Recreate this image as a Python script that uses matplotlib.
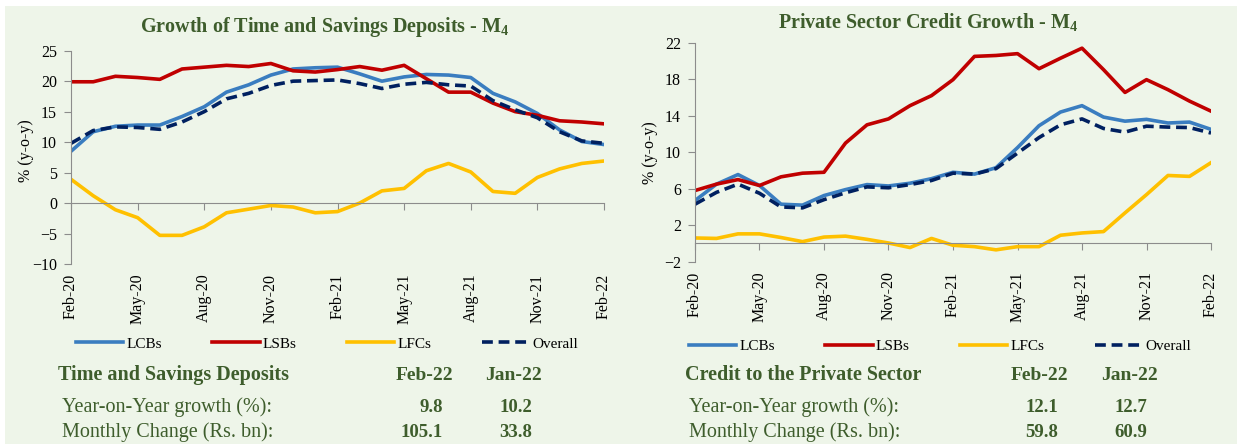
import matplotlib
matplotlib.use('Agg')
import matplotlib.pyplot as plt
from matplotlib.patches import Rectangle

plt.rcParams['font.family'] = 'Liberation Serif'
plt.rcParams['mathtext.fontset'] = 'custom'
plt.rcParams['mathtext.rm'] = 'Liberation Serif'
plt.rcParams['mathtext.bf'] = 'Liberation Serif:bold'

# monthly, Feb-20 .. Feb-22
tick_labels = ['Feb-20', 'May-20', 'Aug-20', 'Nov-20', 'Feb-21', 'May-21', 'Aug-21', 'Nov-21', 'Feb-22']

# time and savings deposits growth (% y-o-y)
dep_lcbs = [8.5, 11.7, 12.6, 12.8, 12.8, 14.2, 15.8, 18.2, 19.4, 21.0, 22.0, 22.2, 22.3,
	21.2, 20.0, 20.7, 21.1, 21.0, 20.6, 18.0, 16.6, 14.7, 12.0, 10.1, 9.6]
dep_lsbs = [19.9, 19.9, 20.8, 20.6, 20.3, 22.0, 22.3, 22.6, 22.4, 22.9, 21.7, 21.5, 21.9,
	22.4, 21.8, 22.6, 20.4, 18.2, 18.2, 16.4, 15.0, 14.4, 13.5, 13.3, 13.0]
dep_lfcs = [3.9, 1.2, -1.1, -2.4, -5.3, -5.3, -3.9, -1.6, -1.0, -0.4, -0.65, -1.6, -1.4,
	0.0, 2.0, 2.4, 5.3, 6.5, 5.1, 1.9, 1.6, 4.2, 5.6, 6.5, 6.9]
dep_overall = [9.8, 11.9, 12.5, 12.4, 12.1, 13.3, 15.0, 17.1, 18.0, 19.3, 20.0, 20.1, 20.2,
	19.6, 18.8, 19.5, 19.8, 19.4, 19.2, 16.8, 15.3, 14.0, 11.7, 10.2, 9.8]

# private sector credit growth (% y-o-y)
cr_lcbs = [4.7, 6.5, 7.55, 6.35, 4.3, 4.2, 5.25, 5.9, 6.45, 6.3, 6.6, 7.1, 7.8,
	7.6, 8.3, 10.5, 12.9, 14.4, 15.1, 13.85, 13.4, 13.6, 13.2, 13.3, 12.5]
cr_lsbs = [5.8, 6.5, 7.0, 6.35, 7.3, 7.7, 7.8, 11.0, 13.0, 13.65, 15.1, 16.2, 17.95,
	20.5, 20.6, 20.8, 19.15, 20.3, 21.4, 19.05, 16.55, 17.95, 16.85, 15.6, 14.5]
cr_lfcs = [0.6, 0.55, 1.05, 1.05, 0.65, 0.2, 0.7, 0.8, 0.45, 0.05, -0.45, 0.55, -0.2,
	-0.35, -0.7, -0.35, -0.35, 0.9, 1.15, 1.3, 3.35, 5.35, 7.45, 7.35, 8.85]
cr_overall = [4.3, 5.6, 6.5, 5.5, 4.0, 3.9, 4.8, 5.55, 6.2, 6.1, 6.45, 6.9, 7.7,
	7.6, 8.2, 9.9, 11.6, 13.0, 13.65, 12.6, 12.2, 12.85, 12.75, 12.7, 12.1]

# summary tables
dep_table = [['Year-on-Year growth (%):', '9.8', '10.2'], ['Monthly Change (Rs. bn):', '105.1', '33.8']]
cr_table = [['Year-on-Year growth (%):', '12.1', '12.7'], ['Monthly Change (Rs. bn):', '59.8', '60.9']]

BG = '#EEF5E9'
GREEN = '#3E5D2C'
AXIS = '#8C8C8C'
W, H = 1237., 444.


def draw_panel(ax, lcbs, lsbs, lfcs, overall, ylim, yticks):
	x = range(len(lcbs))
	ax.set_facecolor('none')
	ax.plot(x, lcbs, color='#3A7DC0', lw=2.6, label='LCBs')
	ax.plot(x, lsbs, color='#C00000', lw=2.6, label='LSBs')
	ax.plot(x, lfcs, color='#FFC000', lw=2.6, label='LFCs')
	ax.plot(x, overall, color='#002060', lw=2.6, ls=(0, (3, 1.6)), label='Overall')
	ax.set_xlim(0, len(lcbs) - 1)
	ax.set_ylim(*ylim)
	ax.set_yticks(yticks)
	ax.spines['top'].set_visible(False)
	ax.spines['right'].set_visible(False)
	ax.spines['left'].set_color(AXIS)
	ax.spines['bottom'].set_color(AXIS)
	ax.spines['bottom'].set_position(('data', 0))
	ax.set_xticks(range(0, len(lcbs), 3))
	ax.tick_params(axis='x', labelbottom=False, length=5, color=AXIS)
	ax.tick_params(axis='y', length=5, color=AXIS, labelsize=11.5, pad=5)
	sec = ax.secondary_xaxis('bottom')
	sec.set_xticks(range(0, len(lcbs), 3), labels=tick_labels, rotation=90)
	sec.tick_params(length=0, pad=7, labelsize=11.5)
	sec.spines['bottom'].set_visible(False)
	ax.set_ylabel('% (y-o-y)', fontsize=11.5)


def draw_table(fig, x0, cols, y0, header, rows):
	fig.text(x0 / W, 1 - y0 / H, header, fontsize=14.5, fontweight='bold', color=GREEN, va='center')
	fig.text(cols[0] / W, 1 - y0 / H, 'Feb-22', fontsize=14, fontweight='bold', color=GREEN, va='center', ha='center')
	fig.text(cols[1] / W, 1 - y0 / H, 'Jan-22', fontsize=14, fontweight='bold', color=GREEN, va='center', ha='center')
	for i, r in enumerate(rows):
		y = 1 - (y0 + 32 + 25 * i) / H
		fig.text((x0 + 4) / W, y, r[0], fontsize=14.5, color=GREEN, va='center')
		fig.text((cols[0] + 19) / W, y, r[1], fontsize=13.5, fontweight='bold', color=GREEN, va='center', ha='right')
		fig.text((cols[1] + 18) / W, y, r[2], fontsize=13.5, fontweight='bold', color=GREEN, va='center', ha='right')


fig = plt.figure(figsize=(12.37, 4.44), dpi=100)
fig.patch.set_facecolor('white')
fig.add_artist(Rectangle((5 / W, 0), 1, 1 - 6 / H, transform=fig.transFigure, facecolor=BG, edgecolor='none', zorder=-10))

ax1 = fig.add_axes([71 / W, 1 - 264 / H, 533 / W, 213.3 / H])
draw_panel(ax1, dep_lcbs, dep_lsbs, dep_lfcs, dep_overall, (-10, 25), range(-10, 26, 5))
ax1.yaxis.set_label_coords(-37 / 533, 0.53)

ax2 = fig.add_axes([695 / W, 1 - 261.7 / H, 516 / W, 219 / H])
draw_panel(ax2, cr_lcbs, cr_lsbs, cr_lfcs, cr_overall, (-2, 22), range(-2, 23, 4))
ax2.yaxis.set_label_coords(-37 / 516, 0.5)

fig.text(325 / W, 1 - 27 / H, r'Growth of Time and Savings Deposits - M$_\mathbf{4}$', fontsize=14.5,
	fontweight='bold', color=GREEN, ha='center', va='center')
fig.text(928 / W, 1 - 23 / H, r'Private Sector Credit Growth - M$_\mathbf{4}$', fontsize=14.5,
	fontweight='bold', color=GREEN, ha='center', va='center')

for ax, cx, cy in [(ax1, 327, 344), (ax2, 940, 346)]:
	ax.legend(loc='center', bbox_to_anchor=(cx / W, 1 - cy / H), bbox_transform=fig.transFigure,
		ncol=4, frameon=False, fontsize=11, handlelength=3.1, handletextpad=0.2, columnspacing=3.3)

draw_table(fig, 58, (424, 514), 375, 'Time and Savings Deposits', dep_table)
draw_table(fig, 685, (1039, 1129), 375, 'Credit to the Private Sector', cr_table)

plt.savefig('out.png', dpi=100, facecolor=fig.get_facecolor())
